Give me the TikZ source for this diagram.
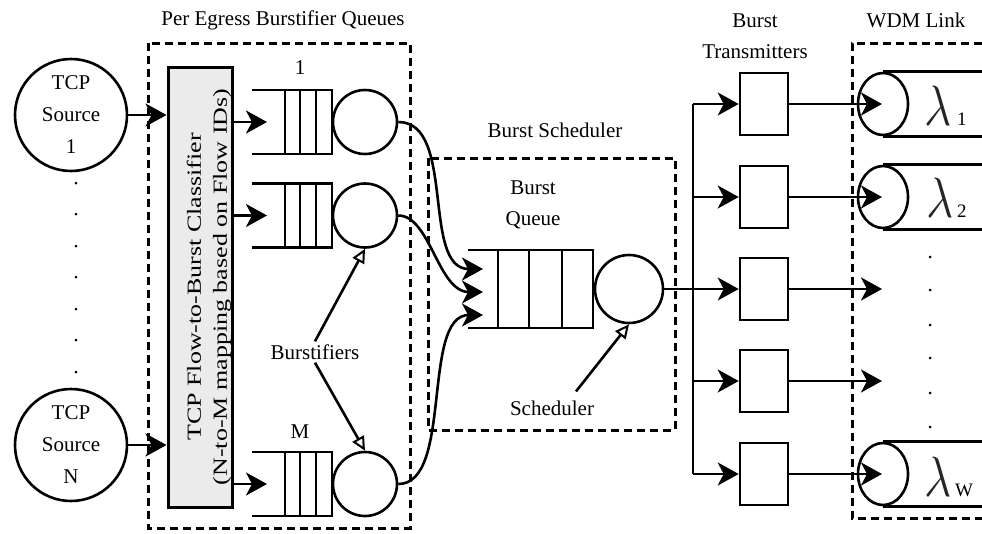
\documentclass[tikz,border=0pt]{standalone}
\usepackage{fontspec}
\setmainfont{Liberation Serif}
\usetikzlibrary{arrows.meta,shapes.geometric}
\begin{document}
\begin{tikzpicture}[x=1pt,y=-1pt,
  ln/.style={line width=2.6pt},
  dbox/.style={line width=3pt, dash pattern=on 8pt off 5pt},
  arr/.style={ln, -{Stealth[length=21pt,width=23pt,inset=6pt]}},
  oarr/.style={ln, -{Triangle[open,length=14pt,width=13pt,line width=2pt]}},
  lbl/.style={font=\fontsize{21}{31}\selectfont, align=center, inner sep=0pt},
  srv/.style={circle, draw, ln, minimum size=64pt, inner sep=0pt},
  src/.style={circle, draw, ln, minimum size=112pt, inner sep=0pt, font=\fontsize{21}{32}\selectfont, align=center},
  tbox/.style={draw, ln, minimum width=48pt, minimum height=62pt, inner sep=0pt},
  fib/.style={ellipse, draw, ln, minimum width=50pt, minimum height=62pt, inner sep=0pt},
  dot/.style={circle, fill, inner sep=0pt, minimum size=3pt},
  lam/.style={font=\fontsize{21}{21}\selectfont, inner sep=0pt, anchor=base, text=black!85},
  lsub/.style={font=\fontsize{19}{19}\selectfont, inner sep=0pt, anchor=base west}
]
\useasboundingbox (0,0) rectangle (982,533);

% ---------- dashed groups ----------
\draw[dbox] (148,43) rectangle (410,528);
\draw[dbox] (428,158) rectangle (675,430);
\draw[dbox] (982,43) -- (852,43) -- (852,518) -- (982,518);

% ---------- titles ----------
\node[lbl] (tPEBQ) at (283,20) {Per Egress Burstifier Queues};
\node[lbl] (tBS) at (555,130) {Burst Scheduler};
\node[lbl] (tBQ) at (533,205) {Burst\\Queue};
\node[lbl] (tBT) at (755,36) {Burst\\Transmitters};
\node[lbl] (tWDM) at (916,20) {WDM Link};

% ---------- sources ----------
\node[src] (src1) at (71,115) {TCP\\Source\\1};
\node[src] (srcN) at (71,445) {TCP\\Source\\N};
\foreach \y in {183,214,246,277,309,340,372} \node[dot] at (76,\y) {};

% ---------- classifier ----------
\node[draw, line width=3pt, fill=black!8, minimum width=64pt, minimum height=440pt, inner sep=0pt] (cls) at (200,287) {};
\node[rotate=90, font=\fontsize{20}{26}\selectfont, align=center, inner sep=0pt] (clst) at (209,287)
  {\scalebox{1.3}[1]{TCP Flow-to-Burst Classifier}\\\scalebox{1.3}[1]{(N-to-M mapping based on Flow IDs)}};
\draw[arr] (src1) -- (src1 -| cls.west);
\draw[arr] (srcN) -- (srcN -| cls.west);

% ---------- burstifier queues ----------
\foreach \y/\n in {122/1,215.5/2,484/M} {
  \draw[ln] (252,{\y-32}) -- (332,{\y-32}) -- (332,{\y+32}) -- (252,{\y+32});
  \draw[ln] (285,{\y-32}) -- (285,{\y+32}) (300,{\y-32}) -- (300,{\y+32}) (316,{\y-32}) -- (316,{\y+32});
  \node[srv] (s\n) at (365,\y) {};
  \coordinate (qin\n) at (267,\y);
  \draw[arr] (cls.east |- qin\n) -- (qin\n);
}
\node[lbl] (l1) at (300,68) {1};
\node[lbl] (lM) at (300,432) {M};
\node[lbl] (burstifiers) at (315,352) {Burstifiers};
\draw[oarr] (burstifiers.north) ++(0,-3) -- (s2.south);
\draw[oarr] (burstifiers.south) ++(0,3) -- (sM.north);

% ---------- burst queue ----------
\draw[ln] (468,250) -- (593,250) -- (593,328) -- (468,328);
\draw[ln] (498,250) -- (498,328) (529,250) -- (529,328) (562,250) -- (562,328);
\node[srv, minimum size=68pt] (bsrv) at (629,289) {};
\coordinate (e1) at (483,269);
\coordinate (e2) at (483,292);
\coordinate (e3) at (483,315);
\draw[arr] (s1.east) .. controls +(58,0) and +(-62,0) .. (e1);
\draw[arr] (s2.east) .. controls +(32,0) and +(-45,0) .. (e2);
\draw[arr] (sM.east) .. controls +(55,0) and +(-62,0) .. (e3);
\node[lbl] (sched) at (552,408) {Scheduler};
\draw[oarr] (sched.north) ++(24,-9) -- (bsrv.south);

% ---------- transmitters ----------
\coordinate (bt) at (693,104);
\coordinate (bb) at (693,474);
\coordinate (bm) at (693,289);
\draw[ln] (bsrv.east) -- (bm);
\draw[ln] (bt) -- (bb);
\foreach \i/\y in {1/104,2/197,3/289,4/381,5/474} {
  \node[tbox] (t\i) at (764,\y) {};
  \coordinate (bus\i) at (693,\y);
  \coordinate (f\i) at (882,\y);
  \draw[arr] (bus\i) -- (t\i.west);
  \draw[arr] (t\i.east) -- (f\i);
}

% ---------- WDM fibers ----------
\foreach \i/\y in {1/104,2/197,5/474} {
  \node[fib] (fib\i) at (883,\y) {};
  \draw[ln] (fib\i.north) -- ++(99,0);
  \draw[ln] (fib\i.south) -- ++(99,0);
}
\node[lam] (lam1) at (938,125) {\scalebox{2.3}[2.74]{$\lambda$}};
\node[lsub] at (957,125) {1};
\node[lam] (lam2) at (940,217) {\scalebox{2.3}[2.74]{$\lambda$}};
\node[lsub] at (957,217) {2};
\node[lam] (lam5) at (938,496) {\scalebox{2.3}[2.74]{$\lambda$}};
\node[lsub] at (955,496) {W};
\foreach \y in {257,290,325,358,393,427} \node[dot] at (930,\y) {};
\end{tikzpicture}
\end{document}
